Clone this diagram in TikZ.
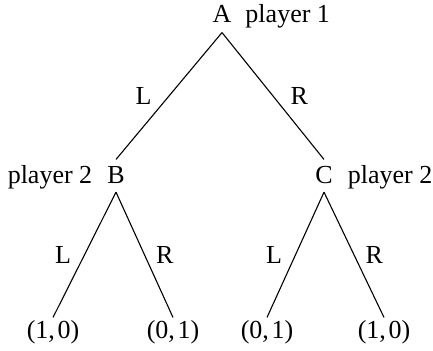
\documentclass[tikz,border=0pt]{standalone}
\usepackage{fontspec}
\setmainfont{Liberation Serif}
\usepackage{tikz}
\usetikzlibrary{positioning}

\tikzset{
  move/.style={inner sep=0pt,text height=12pt,text depth=3.8pt},
  payoff/.style={inner sep=0pt,text height=10.5pt,text depth=0pt},
  who/.style={inner sep=0pt},
  pick/.style={inner sep=0pt,midway},
}

\begin{document}
\begin{tikzpicture}[x=.5pt,y=-.5pt,font=\fontsize{13}{15}\selectfont,line width=.55pt]
    \useasboundingbox (0,0) rectangle (433,351);
    % decision nodes
    \node[move,anchor=base,text depth=4.65pt] (A) at (222,22.7) {A};
    \node[move,anchor=base] (B) at (116,184) {B};
    \node[move,anchor=base] (C) at (324,184) {C};
    \node[who,base right=6.5pt of A] (pA) {player 1};
    \node[who,base left=7pt of B] (pB) {player 2};
    \node[who,base right=7pt of C] (pC) {player 2};
    % payoffs
    \node[payoff,anchor=base] (BL) at (53,339) {(1,\kern.1em0)};
    \node[payoff,anchor=base] (BR) at (173,339) {(0,\kern.1em1)};
    \node[payoff,anchor=base] (CL) at (267,339) {(0,\kern.1em1)};
    \node[payoff,anchor=base] (CR) at (384,339) {(1,\kern.1em0)};
    % branches
    \draw (A.south) -- node[pick,left=8.5pt] {L} (B.north);
    \draw (A.south) -- node[pick,right=8.5pt] {R} (C.north);
    \draw (B.south) -- node[pick,left=6.5pt] {L} (BL.north);
    \draw (B.south) -- node[pick,right=5.5pt] {R} (BR.north);
    \draw (C.south) -- node[pick,left=6.5pt] {L} (CL.north);
    \draw (C.south) -- node[pick,right=5.5pt] {R} (CR.north);
\end{tikzpicture}
\end{document}
